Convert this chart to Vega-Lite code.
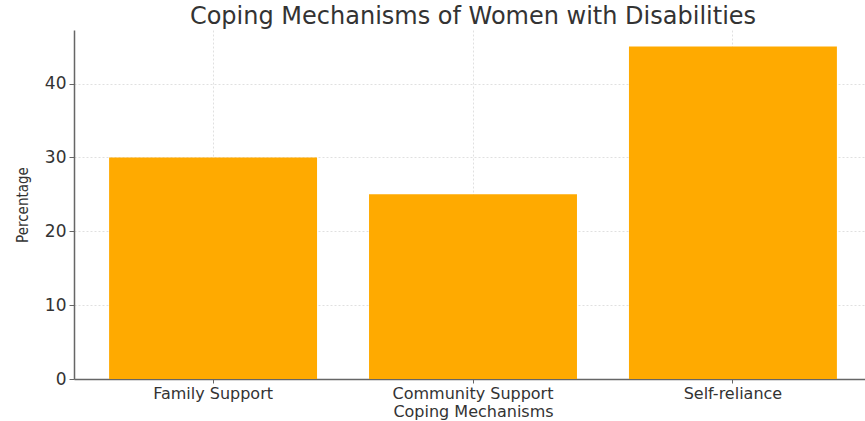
{
  "$schema": "https://vega.github.io/schema/vega-lite/v6.json",
  "autosize": "none",
  "padding": {"left": 74, "top": 30, "right": 0, "bottom": 42},
  "width": 798,
  "height": 349,
  "background": "white",
  "title": {
    "text": "Coping Mechanisms of Women with Disabilities",
    "font": "DejaVu Sans",
    "fontSize": 24,
    "fontWeight": "normal",
    "color": "#333333",
    "anchor": "middle",
    "offset": 1
  },
  "data": {
    "values": [
      {"mechanism": "Family Support", "percentage": 30},
      {"mechanism": "Community Support", "percentage": 25},
      {"mechanism": "Self-reliance", "percentage": 45}
    ]
  },
  "mark": {"type": "bar", "color": "#FFAA00"},
  "encoding": {
    "x": {
      "field": "mechanism",
      "type": "nominal",
      "sort": null,
      "scale": {"paddingInner": 0.2, "paddingOuter": 0.135},
      "axis": {
        "title": "Coping Mechanisms",
        "titleFont": "DejaVu Sans",
        "titleFontSize": 16,
        "titleFontWeight": "normal",
        "titleColor": "#333333",
        "titlePadding": 2,
        "labelAngle": 0,
        "labelFont": "DejaVu Sans",
        "labelFontSize": 16,
        "labelColor": "#333333",
        "labelPadding": 2,
        "domainColor": "#666666",
        "domainWidth": 1.5,
        "tickColor": "#666666",
        "tickSize": 4,
        "grid": true,
        "gridColor": "#d8d8d8",
        "gridDash": [2, 2],
        "gridWidth": 0.8,
        "bandPosition": 0.5
      }
    },
    "y": {
      "field": "percentage",
      "type": "quantitative",
      "scale": {"domain": [0, 47.25], "nice": false},
      "axis": {
        "title": "Percentage",
        "titleFont": "DejaVu Sans Condensed",
        "titleFontSize": 15,
        "titleFontWeight": "normal",
        "titleColor": "#333333",
        "titlePadding": 14,
        "values": [0, 10, 20, 30, 40],
        "labelFont": "DejaVu Sans",
        "labelFontSize": 17,
        "labelColor": "#333333",
        "labelPadding": 3,
        "domainColor": "#666666",
        "domainWidth": 1.5,
        "tickColor": "#666666",
        "tickSize": 5,
        "grid": true,
        "gridColor": "#d8d8d8",
        "gridDash": [2, 2],
        "gridWidth": 0.8
      }
    }
  },
  "config": {"view": {"stroke": null}}
}
